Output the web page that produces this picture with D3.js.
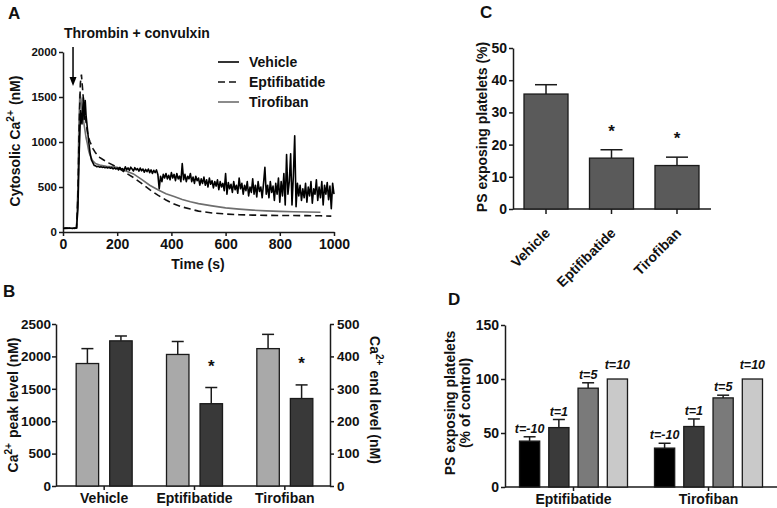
<!DOCTYPE html>
<html><head><meta charset="utf-8">
<script src="https://cdn.jsdelivr.net/npm/d3@7"></script>
<style>body{margin:0;background:#fff}svg{display:block}</style>
</head><body>
<svg id="chart" width="777" height="508"></svg>
<script>
// ---------- DATA ----------
// Panel A: cytosolic Ca2+ traces, [time (s), Ca2+ (nM)]
const vehicleTrace = [[0,40],[5,42],[10,45],[15,43],[20,41],[25,44],[30,42],[35,40],[40,43],[45,45],[50,48],[55,250],[60,900],[65,1350],[70,1200],[75,1490],[78,1250],[82,1460],[85,1300],[90,1150],[95,1000],[100,880],[105,800],[110,770],[115,740],[120,735],[125,725],[130,730],[135,720],[140,725],[145,718],[150,722],[155,715],[160,720],[165,712],[170,718],[175,708],[180,715],[185,702],[190,712],[195,700],[200,710],[205,690],[210,718],[215,695],[220,705],[225,680],[230,725],[235,690],[240,712],[245,685],[250,720],[255,700],[260,678],[265,715],[270,690],[275,705],[280,675],[285,710],[290,680],[295,700],[300,665],[305,695],[310,670],[315,700],[320,660],[325,690],[330,650],[335,685],[340,660],[345,690],[350,640],[355,480],[360,620],[365,560],[370,640],[375,600],[380,650],[385,590],[390,630],[395,580],[400,660],[405,600],[410,640],[415,570],[420,650],[425,590],[430,620],[435,560],[440,760],[445,580],[450,640],[455,560],[460,620],[465,590],[470,650],[475,560],[480,610],[485,540],[490,620],[495,570],[500,600],[505,520],[510,590],[515,540],[520,610],[525,520],[530,580],[535,500],[540,600],[545,530],[550,570],[555,490],[560,560],[565,510],[570,580],[575,470],[580,560],[585,500],[590,540],[595,460],[600,650],[605,420],[610,550],[615,480],[620,530],[625,440],[630,560],[635,470],[640,520],[645,430],[650,600],[655,480],[660,540],[665,420],[670,520],[675,460],[680,560],[685,400],[690,500],[695,440],[700,590],[705,420],[710,520],[715,390],[720,560],[725,450],[730,500],[735,380],[740,540],[745,720],[750,420],[755,520],[760,380],[765,560],[770,440],[775,510],[780,350],[785,540],[790,420],[795,600],[800,330],[805,560],[810,400],[815,650],[820,300],[825,860],[830,420],[835,560],[840,870],[845,300],[850,620],[855,1070],[860,280],[865,540],[870,400],[875,520],[880,350],[885,480],[890,380],[895,540],[900,330],[905,500],[910,400],[915,560],[920,320],[925,480],[930,420],[935,580],[940,350],[945,500],[950,380],[955,560],[960,300],[965,520],[970,420],[975,550],[980,360],[985,510],[990,260],[995,540],[1000,420]];
const eptifibatideTrace = [[0,40],[20,42],[40,40],[50,45],[55,400],[60,1200],[64,1650],[68,1750],[72,1600],[76,1450],[80,1350],[85,1220],[90,1110],[95,1040],[100,1000],[110,930],[120,880],[135,830],[150,800],[170,765],[200,720],[230,660],[260,605],[290,540],[320,470],[350,410],[380,355],[410,310],[440,278],[470,255],[500,232],[550,212],[600,200],[650,192],[700,188],[750,185],[800,184],[850,183],[900,182],[950,180],[990,176]];
const tirofibanTrace = [[0,40],[40,42],[50,45],[55,500],[58,1100],[62,1537],[66,1480],[70,1350],[75,1250],[80,1150],[85,1050],[90,980],[95,900],[100,850],[110,790],[120,760],[140,740],[160,730],[180,725],[200,718],[230,680],[260,645],[290,585],[320,520],[350,470],[380,426],[410,395],[440,362],[470,335],[500,315],[550,290],[600,268],[650,254],[700,243],[750,235],[800,229],[850,225],[900,222],[950,220]];
const seriesNamesA = ["Vehicle", "Eptifibatide", "Tirofiban"];
const stimulusTime = 37;
const ticksAy = [0, 500, 1000, 1500, 2000];
const ticksAx = [0, 200, 400, 600, 800, 1000];

// Panel B: peak (left axis) and end (right axis) Ca2+ levels
const groupsB = ["Vehicle", "Eptifibatide", "Tirofiban"];
const peakLevel = [1890, 2030, 2120];
const peakErr = [230, 200, 220];
const endLevel = [448, 254, 270];
const endErr = [15, 50, 42];
const endSignif = [false, true, true];
const ticksBLeft = [0, 500, 1000, 1500, 2000, 2500];
const ticksBRight = [0, 100, 200, 300, 400, 500];

// Panel C: PS exposing platelets (%)
const groupsC = ["Vehicle", "Eptifibatide", "Tirofiban"];
const psValues = [35.7, 15.8, 13.5];
const psErr = [2.9, 2.6, 2.6];
const psSignif = [false, true, true];
const ticksC = [0, 10, 20, 30, 40, 50];

// Panel D: PS exposing platelets (% of control) by time of addition
const groupsD = ["Eptifibatide", "Tirofiban"];
const timeLabels = ["t=-10", "t=1", "t=5", "t=10"];
const eptifibatideD = [42.5, 55, 91.5, 100];
const eptifibatideDErr = [4, 7.5, 5, 0];
const tirofibanD = [36, 56, 82.5, 100];
const tirofibanDErr = [4.5, 7, 2.5, 0];
const ticksD = [0, 50, 100, 150];

// ---------- DRAW ----------
const FONT = "'Liberation Sans', Arial, Helvetica, sans-serif";
const svg = d3.select("#chart");
svg.append("rect").attr("width", 777).attr("height", 508).attr("fill", "#fff");
const INK = "#1a1a1a";
const fmt = d3.format("d");

function styleAxis(g, size) {
  g.select(".domain").attr("stroke", INK).attr("stroke-width", 1.5);
  g.selectAll(".tick line").attr("stroke", INK).attr("stroke-width", 1.5);
  g.selectAll(".tick text").attr("font-family", FONT).attr("font-weight", "bold")
    .attr("font-size", size).attr("fill", "#111");
}
function label(x, y, txt, size, opts = {}) {
  const t = svg.append("text").attr("x", x).attr("y", y).attr("font-family", FONT)
    .attr("font-weight", "bold").attr("font-size", size).attr("fill", "#111").text(txt);
  if (opts.anchor) t.attr("text-anchor", opts.anchor);
  if (opts.italic) t.attr("font-style", "italic");
  return t;
}
function rotLabel(x, y, angle, parts, size) {
  const t = svg.append("text").attr("transform", `translate(${x},${y}) rotate(${angle})`)
    .attr("text-anchor", "middle").attr("font-family", FONT).attr("font-weight", "bold")
    .attr("font-size", size).attr("fill", "#111");
  parts.forEach(p => {
    if (p.sup) {
      t.append("tspan").attr("font-size", size * 0.72).attr("dy", -size * 0.4).text(p.t);
      t.append("tspan").attr("dy", size * 0.4).text("\u200A");
    } else t.append("tspan").text(p.t);
  });
  return t;
}

// ---------- Panel A ----------
const xA = d3.scaleLinear().domain([0, 1000]).range([63, 334]);
const yA = d3.scaleLinear().domain([0, 2000]).range([232, 52]);
const gAy = svg.append("g").attr("transform", "translate(63,0)")
  .call(d3.axisLeft(yA).tickValues(ticksAy).tickFormat(fmt).tickSize(4).tickPadding(2).tickSizeOuter(0));
styleAxis(gAy, 11.5);
const gAx = svg.append("g").attr("transform", "translate(0,232)")
  .call(d3.axisBottom(xA).tickValues(ticksAx).tickFormat(fmt).tickSize(4).tickPadding(3).tickSizeOuter(0));
styleAxis(gAx, 14);

const lineA = d3.line().x(d => xA(d[0])).y(d => yA(d[1]));
svg.append("path").datum(tirofibanTrace).attr("d", lineA).attr("fill", "none")
  .attr("stroke", "#6e6e6e").attr("stroke-width", 1.6);
svg.append("path").datum(eptifibatideTrace).attr("d", lineA).attr("fill", "none")
  .attr("stroke", "#111").attr("stroke-width", 1.6).attr("stroke-dasharray", "7,4");
svg.append("path").datum(vehicleTrace).attr("d", lineA).attr("fill", "none")
  .attr("stroke", "#000").attr("stroke-width", 1.6).attr("stroke-linejoin", "round");

// stimulus arrow
const ax = xA(stimulusTime);
svg.append("line").attr("x1", ax).attr("x2", ax).attr("y1", 47).attr("y2", 78)
  .attr("stroke", "#000").attr("stroke-width", 1.5);
svg.append("path").attr("d", `M${ax - 3.5},77 L${ax + 3.5},77 L${ax},86 Z`).attr("fill", "#000");
label(64, 38, "Thrombin + convulxin", 14);
label(8, 19, "A", 17);
label(198, 269, "Time (s)", 14, { anchor: "middle" });
rotLabel(20, 141, -90, [{ t: "Cytosolic Ca" }, { t: "2+", sup: true }, { t: " (nM)" }], 14);

// legend A
const legendStyles = [
  { stroke: "#000", dash: null },
  { stroke: "#111", dash: "7,4" },
  { stroke: "#6e6e6e", dash: null }
];
seriesNamesA.forEach((n, i) => {
  const y = 62 + i * 20;
  const l = svg.append("line").attr("x1", 218).attr("x2", 239).attr("y1", y).attr("y2", y)
    .attr("stroke", legendStyles[i].stroke).attr("stroke-width", 1.6);
  if (legendStyles[i].dash) l.attr("stroke-dasharray", legendStyles[i].dash);
  label(249, y + 5, n, 14);
});

// ---------- Panel B ----------
const x0B = d3.scaleBand().domain(groupsB).range([59, 330]).padding(0);
const x1B = d3.scaleBand().domain(["peak", "end"]).range([-28, 28]).paddingInner(0.33);
const yBL = d3.scaleLinear().domain([0, 2500]).range([486, 324]);
const yBR = d3.scaleLinear().domain([0, 500]).range([486, 324]);
const gBl = svg.append("g").attr("transform", "translate(56,0)")
  .call(d3.axisLeft(yBL).tickValues(ticksBLeft).tickFormat(fmt).tickSize(4).tickPadding(1).tickSizeOuter(0));
styleAxis(gBl, 13.5);
const gBr = svg.append("g").attr("transform", "translate(330,0)")
  .call(d3.axisRight(yBR).tickValues(ticksBRight).tickFormat(fmt).tickSize(4).tickPadding(3).tickSizeOuter(0));
styleAxis(gBr, 13.5);
const gBx = svg.append("g").attr("transform", "translate(0,486)")
  .call(d3.axisBottom(x0B).tickSize(4).tickPadding(3).tickSizeOuter(0));
styleAxis(gBx, 14);
gBx.select(".domain").remove();
svg.append("line").attr("x1", 56).attr("x2", 330).attr("y1", 486).attr("y2", 486)
  .attr("stroke", INK).attr("stroke-width", 1.5);

function errBar(x, yTop, yBase, half) {
  svg.append("line").attr("x1", x).attr("x2", x).attr("y1", yBase).attr("y2", yTop)
    .attr("stroke", INK).attr("stroke-width", 1.5);
  svg.append("line").attr("x1", x - half).attr("x2", x + half).attr("y1", yTop).attr("y2", yTop)
    .attr("stroke", INK).attr("stroke-width", 1.5);
}
function bar(x, w, yTop, yBase, fill) {
  svg.append("rect").attr("x", x).attr("y", yTop).attr("width", w).attr("height", yBase - yTop)
    .attr("fill", fill).attr("stroke", INK).attr("stroke-width", 1.3);
}
groupsB.forEach((g, i) => {
  const c = x0B(g) + x0B.bandwidth() / 2;
  const xp = c + x1B("peak"), xe = c + x1B("end"), w = x1B.bandwidth();
  errBar(xp + w / 2, yBL(peakLevel[i] + peakErr[i]), yBL(peakLevel[i]), 6);
  bar(xp, w, yBL(peakLevel[i]), yBL(0), "#a9a9a9");
  errBar(xe + w / 2, yBR(endLevel[i] + endErr[i]), yBR(endLevel[i]), 6);
  bar(xe, w, yBR(endLevel[i]), yBR(0), "#393939");
  if (endSignif[i]) label(xe + w / 2, yBR(endLevel[i] + endErr[i]) - 16, "*", 17, { anchor: "middle" });
});
label(3, 297, "B", 17);
rotLabel(18, 405, -90, [{ t: "Ca" }, { t: "2+", sup: true }, { t: " peak level (nM)" }], 14);
rotLabel(370, 400, 90, [{ t: "Ca" }, { t: "2+", sup: true }, { t: " end level (nM)" }], 14);

// ---------- Panel C ----------
const xC = d3.scaleBand().domain(groupsC).range([513, 710]).paddingInner(0.328).paddingOuter(0.168);
const yC = d3.scaleLinear().domain([0, 50]).range([209, 48]);
const gCy = svg.append("g").attr("transform", "translate(513,0)")
  .call(d3.axisLeft(yC).tickValues(ticksC).tickSize(4).tickPadding(2).tickSizeOuter(0));
styleAxis(gCy, 14);
svg.append("line").attr("x1", 513).attr("x2", 711).attr("y1", 209).attr("y2", 209)
  .attr("stroke", INK).attr("stroke-width", 1.5);
groupsC.forEach((g, i) => {
  const x = xC(g), w = xC.bandwidth(), c = x + w / 2;
  errBar(c, yC(psValues[i] + psErr[i]), yC(psValues[i]), 11);
  bar(x, w, yC(psValues[i]), yC(0), "#5a5a5a");
  if (psSignif[i]) label(c, yC(psValues[i] + psErr[i]) - 13, "*", 17, { anchor: "middle" });
  svg.append("line").attr("x1", c).attr("x2", c).attr("y1", 209).attr("y2", 214)
    .attr("stroke", INK).attr("stroke-width", 1.5);
  svg.append("text").attr("transform", `translate(${c + 5},${234}) rotate(-45)`)
    .attr("text-anchor", "end").attr("font-family", FONT).attr("font-weight", "bold")
    .attr("font-size", 14).attr("fill", "#111").text(g);
});
label(480, 18, "C", 17);
rotLabel(487, 127, -90, [{ t: "PS exposing platelets (%)" }], 14);

// ---------- Panel D ----------
const x0D = d3.scaleBand().domain(groupsD).range([506, 776]).paddingInner(0.2).paddingOuter(0.1);
const x1D = d3.scaleBand().domain(timeLabels).range([0, x0D.bandwidth()]).paddingInner(0.31);
const yD = d3.scaleLinear().domain([0, 150]).range([487, 325]);
const gDy = svg.append("g").attr("transform", "translate(505,0)")
  .call(d3.axisLeft(yD).tickValues(ticksD).tickSize(4).tickPadding(2).tickSizeOuter(0));
styleAxis(gDy, 14);
const gDx = svg.append("g").attr("transform", "translate(0,487)")
  .call(d3.axisBottom(x0D).tickSize(4).tickPadding(3).tickSizeOuter(0));
styleAxis(gDx, 14);
gDx.select(".domain").remove();
svg.append("line").attr("x1", 505).attr("x2", 777).attr("y1", 487).attr("y2", 487)
  .attr("stroke", INK).attr("stroke-width", 1.5);
const dColors = ["#000000", "#3a3a3a", "#7a7a7a", "#c9c9c9"];
const dValues = [eptifibatideD, tirofibanD];
const dErrs = [eptifibatideDErr, tirofibanDErr];
groupsD.forEach((g, gi) => {
  timeLabels.forEach((t, i) => {
    const x = x0D(g) + x1D(t), w = x1D.bandwidth(), c = x + w / 2;
    const v = dValues[gi][i], e = dErrs[gi][i];
    if (e > 0) errBar(c, yD(v + e), yD(v), 6);
    bar(x, w, yD(v), yD(0), dColors[i]);
    label(c, yD(v + e) - (e > 0 ? 4 : 10), t, 12.5, { anchor: "middle", italic: true });
  });
});
label(448, 305, "D", 17);
rotLabel(455, 403, -90, [{ t: "PS exposing platelets" }], 14);
rotLabel(470, 403, -90, [{ t: "(% of control)" }], 14);
</script>
</body></html>
